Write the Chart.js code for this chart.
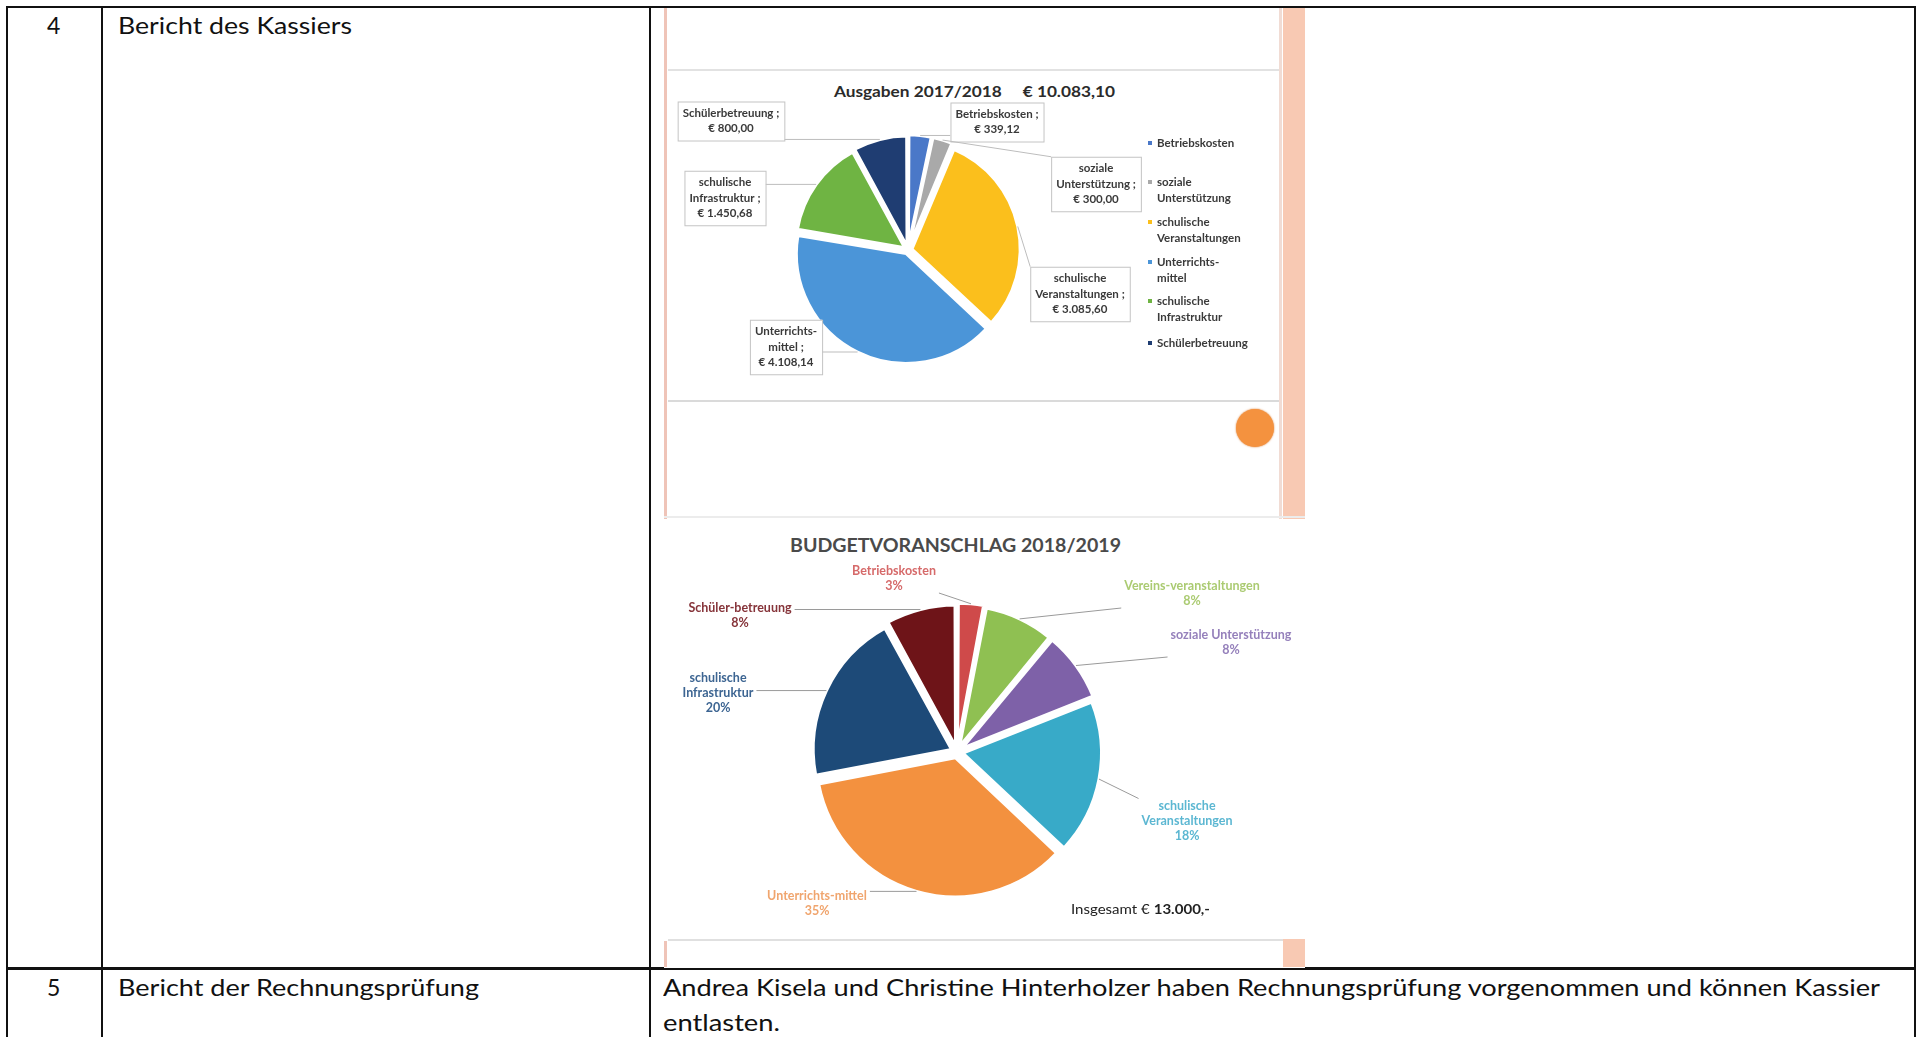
<!DOCTYPE html>
<html lang="de">
<head>
<meta charset="utf-8">
<script src="https://cdn.jsdelivr.net/npm/chart.js@4.4.1/dist/chart.umd.min.js"></script>
<style>
  body { margin: 0; width: 1921px; height: 1037px; background: #fff; position: relative; overflow: hidden; font-family: Lato, 'Open Sans', sans-serif; }
  .ln { position: absolute; background: #111; }
  .txt { position: absolute; white-space: nowrap; font-size: 23px; line-height: 23px; color: #111; transform-origin: 0 0; }
  .deco { position: absolute; }
  canvas { position: absolute; }
  .slideTxt { position: absolute; white-space: nowrap; transform-origin: 0 0; }
</style>
</head>
<body>

<!-- Tabelle -->
<div class="ln" style="left:6px; top:6px; width:1910px; height:2px;"></div>
<div class="ln" style="left:6px; top:6px; width:2px; height:1031px;"></div>
<div class="ln" style="left:1914px; top:6px; width:2px; height:1031px;"></div>
<div class="ln" style="left:101px; top:6px; width:2px; height:1031px;"></div>
<div class="ln" style="left:649px; top:6px; width:2px; height:1031px;"></div>
<div class="ln" style="left:6px; top:967px; width:1910px; height:3px;"></div>

<div class="txt" style="left:47px; top:14px;">4</div>
<div class="txt" data-w="234" style="left:118px; top:14px;">Bericht des Kassiers</div>
<div class="txt" style="left:47px; top:976px;">5</div>
<div class="txt" data-w="361" style="left:118px; top:976px;">Bericht der Rechnungsprüfung</div>
<div class="txt" data-w="1217" style="left:663px; top:976px;">Andrea Kisela und Christine Hinterholzer haben Rechnungsprüfung vorgenommen und können Kassier</div>
<div class="txt" data-w="117" style="left:663px; top:1011px;">entlasten.</div>

<!-- Folie 1 -->
<div class="deco" style="left:664px; top:8px; width:641px; height:511px; background:#fff;"></div>
<div class="deco" style="left:664px; top:8px; width:3px; height:511px; background:#efc4b8;"></div>
<div class="deco" style="left:1279px; top:8px; width:3px; height:511px; background:#f1dcd4;"></div>
<div class="deco" style="left:1283px; top:8px; width:22px; height:511px; background:#f8c9b3;"></div>
<div class="deco" style="left:668px; top:69px; width:611px; height:2px; background:#e2e2e2;"></div>
<div class="deco" style="left:668px; top:400px; width:611px; height:2px; background:#dadada;"></div>
<div class="deco" style="left:664px; top:516px; width:641px; height:2px; background:#ececec;"></div>
<div class="deco" style="left:1236px; top:409px; width:38px; height:38px; border-radius:50%; background:#f4923f; box-shadow:0 0 2px #d9782c;"></div>
<div class="slideTxt" data-w="281" style="left:834px; top:82px; font-size:15px; font-weight:bold; color:#2b2b2b;">Ausgaben 2017/2018&nbsp;&nbsp;&nbsp;&nbsp;&nbsp;€ 10.083,10</div>
<canvas id="pie1" width="641" height="512" style="left:664px; top:7px;"></canvas>

<!-- Folie 2 -->
<div class="deco" style="left:664px; top:519px; width:641px; height:449px; background:#fff;"></div>
<div class="slideTxt" data-w="331" style="left:790px; top:533px; font-size:19px; font-weight:bold; color:#4a4a4a;">BUDGETVORANSCHLAG 2018/2019</div>
<canvas id="pie2" width="641" height="421" style="left:664px; top:519px;"></canvas>
<div class="slideTxt" data-w="139" style="left:1071px; top:900px; font-size:14px; color:#222;">Insgesamt € <b>13.000,-</b></div>
<div class="deco" style="left:668px; top:939px; width:615px; height:2px; background:#e0e0e0;"></div>
<div class="deco" style="left:664px; top:941px; width:3px; height:26px; background:#efc4b8;"></div>
<div class="deco" style="left:1283px; top:939px; width:22px; height:28px; background:#f8c9b3;"></div>

<script>
// Ausgaben 2017/2018
const cats1 = [['Betriebskosten'], ['soziale', 'Unterstützung'], ['schulische', 'Veranstaltungen'], ['Unterrichts-', 'mittel'], ['schulische', 'Infrastruktur'], ['Schülerbetreuung']];
const values1 = [339.12, 300.00, 3085.60, 4108.14, 1450.68, 800.00];
const colors1 = ['#4a78c8', '#a9a9a9', '#fbbf1c', '#4b95d8', '#6fb443', '#1f3d72'];

// Budgetvoranschlag 2018/2019 (Prozent)
const cats2 = [['Betriebskosten'], ['Vereins-veranstaltungen'], ['soziale Unterstützung'], ['schulische', 'Veranstaltungen'], ['Unterrichts-mittel'], ['schulische', 'Infrastruktur'], ['Schüler-betreuung']];
const values2 = [3, 8, 8, 18, 35, 20, 8];
const colors2 = ['#cf4a4a', '#8fc052', '#7e61a8', '#38aac8', '#f3913f', '#1d4a78', '#6e1418'];
const textColors2 = ['#d66a6a', '#abcb72', '#9580bb', '#5cb7d2', '#f0a56e', '#3d6592', '#86343a'];

// Lage der Beschriftungen (Canvas-Koordinaten)
const labelAt1 = [[333, 115], [432, 177], [416, 287], [122, 340], [61, 191], [67, 114]];
const legendX1 = 486;
const legendY1 = [136, 175, 215, 255, 294, 336];
const labelAt2 = [[230, 59], [528, 74], [567, 123], [523, 302], [153, 384], [54, 174], [76, 96]];

// Textbreiten anpassen
document.querySelectorAll('[data-w]').forEach(el => {
    const w = el.getBoundingClientRect().width;
    el.style.transform = `scaleX(${el.dataset.w / w})`;
});

function euro(v) {
    const parts = v.toFixed(2).split('.');
    return '€ ' + parts[0].replace(/\B(?=(\d{3})+(?!\d))/g, '.') + ',' + parts[1];
}

function arcAnchor(arc) {
    const p = arc.getProps(['x', 'y', 'startAngle', 'endAngle', 'outerRadius', 'circumference'], true);
    const mid = (p.startAngle + p.endAngle) / 2;
    const off = (arc.options.offset || 0) / 4;
    const fix = 1 - Math.sin(Math.min(Math.PI, p.circumference || 0));
    const r = p.outerRadius + off * (1 + fix);
    return [p.x + Math.cos(mid) * r, p.y + Math.sin(mid) * r];
}

// Datenbeschriftungen mit Führungslinien
const calloutPlugin = {
    id: 'callouts',
    afterDatasetsDraw(chart, args, opts) {
        const ctx = chart.ctx;
        const vals = chart.data.datasets[0].data;
        const total = vals.reduce((a, b) => a + b, 0);
        ctx.save();
        chart.getDatasetMeta(0).data.forEach((arc, i) => {
            const [ax, ay] = arcAnchor(arc);
            const lines = opts.text(i, vals[i], total);
            ctx.font = opts.font;
            const w = Math.max(...lines.map(l => ctx.measureText(l).width)) + opts.padX * 2;
            const h = lines.length * opts.lineHeight + opts.padY * 2;
            const [cx, cy] = opts.at[i];
            const x0 = cx - w / 2, y0 = cy - h / 2;
            const lx = Math.min(Math.max(ax, x0), x0 + w);
            const ly = Math.min(Math.max(ay, y0), y0 + h);

            ctx.strokeStyle = opts.lineColor;
            ctx.lineWidth = 1;
            ctx.beginPath();
            ctx.moveTo(lx, ly);
            ctx.lineTo(ax, ay);
            ctx.stroke();

            if (opts.box) {
                ctx.fillStyle = '#fff';
                ctx.fillRect(x0, y0, w, h);
                ctx.strokeStyle = '#c4c4c4';
                ctx.strokeRect(x0 + 0.5, y0 + 0.5, w, h);
            }
            ctx.fillStyle = opts.color(i);
            ctx.textAlign = 'center';
            ctx.textBaseline = 'middle';
            lines.forEach((l, k) => {
                ctx.fillText(l, cx, y0 + opts.padY + opts.lineHeight * (k + 0.5));
            });
        });

        if (opts.legend) {
            ctx.font = opts.font;
            ctx.textAlign = 'left';
            ctx.textBaseline = 'middle';
            chart.data.datasets[0].backgroundColor.forEach((c, i) => {
                const y = legendY1[i];
                ctx.fillStyle = c;
                ctx.fillRect(legendX1 - 2, y - 2, 4, 4);
                ctx.fillStyle = '#3a3a3a';
                cats1[i].forEach((l, k) => ctx.fillText(l, legendX1 + 7, y + k * 16));
            });
        }
        ctx.restore();
    }
};

new Chart(document.getElementById('pie1'), {
    type: 'pie',
    data: {
        labels: cats1.map(c => c.join(' ')),
        datasets: [{ data: values1, backgroundColor: colors1, borderColor: '#fff', borderWidth: 3, offset: 16 }]
    },
    options: {
        responsive: false,
        animation: false,
        layout: { padding: { left: 126.5, top: 125.5, right: 279.5, bottom: 151.5 } },
        plugins: {
            legend: { display: false },
            tooltip: { enabled: false },
            callouts: {
                at: labelAt1,
                box: true,
                legend: true,
                font: 'bold 11.5px Lato, sans-serif',
                lineHeight: 15.5,
                padX: 5,
                padY: 4,
                lineColor: '#bdbdbd',
                color: () => '#3a3a3a',
                text: (i, v) => {
                    const l = cats1[i].slice();
                    l[l.length - 1] += ' ;';
                    return [...l, euro(v)];
                }
            }
        }
    },
    plugins: [calloutPlugin]
});

new Chart(document.getElementById('pie2'), {
    type: 'pie',
    data: {
        labels: cats2.map(c => c.join(' ')),
        datasets: [{ data: values2, backgroundColor: colors2, borderColor: '#fff', borderWidth: 3, offset: 24 }]
    },
    options: {
        responsive: false,
        animation: false,
        layout: { padding: { left: 141.5, top: 81.5, right: 196.5, bottom: 36.5 } },
        plugins: {
            legend: { display: false },
            tooltip: { enabled: false },
            callouts: {
                at: labelAt2,
                box: false,
                legend: false,
                font: 'bold 12.5px Lato, sans-serif',
                lineHeight: 15,
                padX: 3,
                padY: 0,
                lineColor: '#9a9a9a',
                color: i => textColors2[i],
                text: (i, v, total) => [...cats2[i], Math.round(v / total * 100) + '%']
            }
        }
    },
    plugins: [calloutPlugin]
});
</script>
</body>
</html>
